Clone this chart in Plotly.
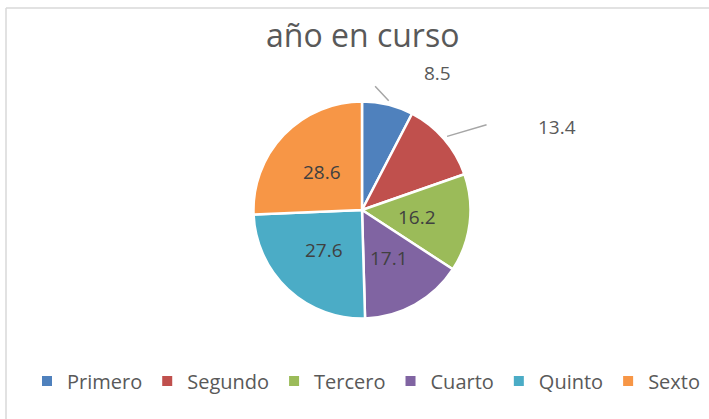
import math
import plotly.graph_objects as go

categories = ["Primero", "Segundo", "Tercero", "Cuarto", "Quinto", "Sexto"]
values = [8.5, 13.4, 16.2, 17.1, 27.6, 28.6]
colors = ["#4F81BD", "#C0504D", "#9BBB59", "#8064A2", "#4BACC6", "#F79646"]
outside_label = [True, True, False, False, False, False]
title_text = "año en curso"

W, H = 709, 419
cx, cy, R = 362, 210, 108.5

def px_to_paper(x, y):
    return x / W, 1 - y / H

fig = go.Figure()
fig.add_trace(go.Pie(
    labels=categories,
    values=values,
    sort=False,
    direction="clockwise",
    rotation=0,
    marker=dict(colors=colors, line=dict(color="white", width=2.5)),
    textinfo="none",
    hoverinfo="label+value",
    domain=dict(x=[(cx - R) / W, (cx + R) / W], y=[1 - (cy + R) / H, 1 - (cy - R) / H]),
))

# data labels placed from each slice's mid-angle
total = sum(values)
outside_offsets = {0: ((-15, -16), (49, -28)), 1: ((41, -12), (110, -9))}
annotations = []
cum = 0
for i, v in enumerate(values):
    mid = (cum + v / 2) / total * 2 * math.pi
    cum += v
    if outside_label[i]:
        sx = cx + (R + 4) * math.sin(mid)
        sy = cy - (R + 4) * math.cos(mid)
        (lx, ly), (tx, ty) = outside_offsets[i]
        px0, py0 = px_to_paper(sx, sy)
        annotations.append(dict(x=px0, y=py0, xref="paper", yref="paper", text="",
                                showarrow=True, arrowhead=0, arrowwidth=1.5,
                                arrowcolor="#A6A6A6", ax=lx, ay=ly, standoff=0, startstandoff=0))
        tpx, tpy = px_to_paper(sx + tx, sy + ty)
        annotations.append(dict(x=tpx, y=tpy, xref="paper", yref="paper", text=str(v),
                                showarrow=False, xanchor="center", yanchor="middle",
                                font=dict(family="Open Sans, sans-serif", size=19, color="#595959")))
    else:
        ix = cx + 0.51 * R * math.sin(mid)
        iy = cy - 0.51 * R * math.cos(mid)
        ipx, ipy = px_to_paper(ix, iy)
        annotations.append(dict(x=ipx, y=ipy, xref="paper", yref="paper", text=str(v),
                                showarrow=False, xanchor="center", yanchor="middle",
                                font=dict(family="Open Sans, sans-serif", size=19, color="#404040")))

tx_, ty_ = px_to_paper(362, 35)
annotations.append(dict(x=tx_, y=ty_, xref="paper", yref="paper", text=title_text,
                        showarrow=False, xanchor="center", yanchor="middle",
                        font=dict(family="Open Sans, sans-serif", size=32, color="#595959")))

lx0, ly0 = px_to_paper(6, 8)
shapes = [
    dict(type="line", xref="paper", yref="paper", x0=lx0, x1=lx0, y0=ly0, y1=0,
         line=dict(color="#D9D9D9", width=1.5)),
    dict(type="line", xref="paper", yref="paper", x0=lx0, x1=1, y0=ly0, y1=ly0,
         line=dict(color="#D9D9D9", width=1.5)),
]

lgx, lgy = px_to_paper(366, 381)
fig.update_layout(
    width=W, height=H,
    margin=dict(l=0, r=0, t=0, b=0),
    paper_bgcolor="white", plot_bgcolor="white",
    showlegend=True,
    legend=dict(orientation="h", x=lgx, y=lgy, xanchor="center", yanchor="middle",
                font=dict(family="Open Sans, sans-serif", size=20, color="#595959"),
                itemsizing="constant", tracegroupgap=0),
    annotations=annotations,
    shapes=shapes,
)

fig.write_html("out.html", config={"displayModeBar": False},
               post_script="document.body.style.margin='0';")
